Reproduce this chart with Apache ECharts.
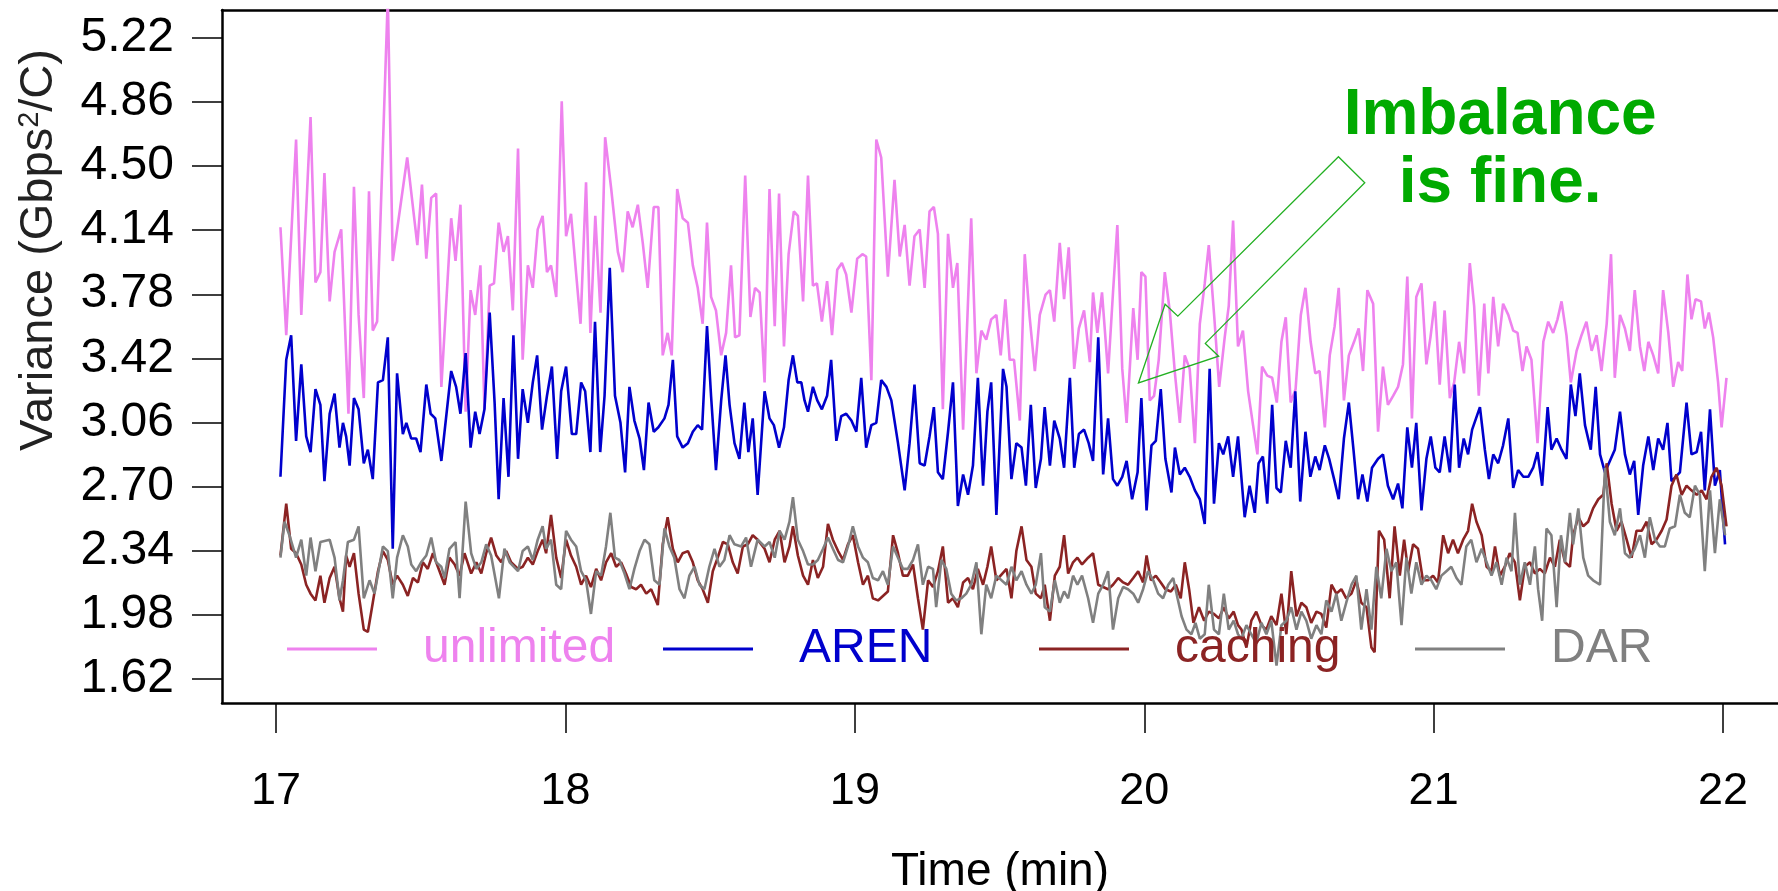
<!DOCTYPE html>
<html>
<head>
<meta charset="utf-8">
<title>Variance over time</title>
<script src="https://cdn.jsdelivr.net/npm/echarts@6/dist/echarts.min.js"></script>
<style>
  html, body { margin: 0; padding: 0; background: #fff; }
  #chart { width: 1778px; height: 891px; }
</style>
</head>
<body>
<div id="chart"></div>
<script>
// tick values
var xTicks = [17, 18, 19, 20, 21, 22];
var yTicks = [1.62, 1.98, 2.34, 2.70, 3.06, 3.42, 3.78, 4.14, 4.50, 4.86, 5.22];
var names = ['unlimited', 'AREN', 'caching', 'DAR'];
var colors = ['#EE82EE', '#0000CD', '#8B2323', '#808080'];

// [time (min), variance] pairs
var unlimited = [
  [17.015,4.156],[17.035,3.550],[17.069,4.649],[17.087,3.664],[17.119,4.775],[17.136,3.846],[17.153,3.904],[17.167,4.460],[17.185,3.740],[17.202,4.018],[17.225,4.144],[17.250,3.109],[17.269,4.384],[17.285,3.664],[17.303,3.197],[17.321,4.358],[17.334,3.576],[17.349,3.626],[17.386,5.45],[17.403,3.967],[17.453,4.548],[17.488,4.056],[17.504,4.396],[17.519,3.980],[17.536,4.321],[17.553,4.346],[17.571,3.260],[17.605,4.207],[17.620,3.967],[17.637,4.283],[17.655,3.121],[17.672,3.803],[17.688,3.664],[17.706,3.942],[17.720,3.134],[17.738,3.828],[17.753,3.841],[17.769,4.182],[17.786,4.018],[17.801,4.106],[17.818,3.689],[17.836,4.598],
  [17.852,3.412],[17.870,3.942],[17.887,3.816],[17.904,4.144],[17.921,4.220],[17.936,3.904],[17.950,3.942],[17.968,3.765],[17.987,4.863],[18.002,4.106],[18.019,4.232],[18.037,3.891],[18.052,3.614],[18.071,4.409],[18.086,3.563],[18.103,4.220],[18.121,3.677],[18.137,4.662],[18.158,4.371],[18.181,4.018],[18.198,3.904],[18.215,4.245],[18.232,4.156],[18.250,4.283],[18.267,4.068],[18.284,3.816],[18.305,4.270],[18.321,4.270],[18.336,3.437],[18.353,3.563],[18.367,3.437],[18.386,4.371],[18.405,4.207],[18.423,4.182],[18.440,3.942],[18.457,3.816],[18.474,3.614],[18.489,4.182],[18.503,3.765],[18.520,3.689],[18.538,3.437],[18.555,3.563],[18.572,3.942],[18.586,3.538],[18.601,3.550],[18.621,4.447],[18.639,3.652],[18.655,3.816],[18.671,3.790],
  [18.688,3.285],[18.705,4.371],[18.723,3.601],[18.738,4.346],[18.755,3.487],[18.771,4.005],[18.789,4.245],[18.803,4.220],[18.821,3.740],[18.838,4.447],[18.855,3.828],[18.869,3.841],[18.886,3.626],[18.904,3.854],[18.921,3.550],[18.939,3.917],[18.955,3.955],[18.970,3.891],[18.988,3.677],[19.008,3.980],[19.026,4.005],[19.039,3.992],[19.057,3.298],[19.074,4.649],[19.091,4.548],[19.114,3.879],[19.137,4.422],[19.155,3.992],[19.172,4.169],[19.189,3.828],[19.206,4.106],[19.224,4.144],[19.241,3.816],[19.258,4.245],[19.273,4.270],[19.287,4.119],[19.304,3.134],[19.322,4.119],[19.339,3.816],[19.354,3.955],[19.374,3.020],[19.402,4.207],[19.420,3.336],[19.437,3.576],[19.454,3.525],[19.471,3.639],[19.489,3.664],[19.504,3.437],
  [19.520,3.752],[19.535,3.412],[19.550,3.412],[19.570,3.071],[19.587,4.005],[19.604,3.651],[19.622,3.349],[19.639,3.664],[19.659,3.778],[19.674,3.803],[19.689,3.626],[19.708,4.068],[19.723,3.752],[19.739,4.043],[19.758,3.361],[19.774,3.588],[19.792,3.689],[19.812,3.399],[19.823,3.790],[19.838,3.563],[19.854,3.790],[19.875,3.336],[19.892,3.790],[19.907,4.169],[19.924,3.361],[19.939,3.058],[19.962,3.702],[19.977,3.412],[19.990,3.904],[20.004,3.879],[20.019,3.184],[20.034,3.210],[20.050,3.412],[20.071,3.904],[20.088,3.689],[20.106,3.336],[20.123,3.058],[20.140,3.437],[20.157,3.361],[20.175,2.944],[20.192,3.614],[20.209,3.841],[20.223,4.056],[20.242,3.651],[20.259,3.260],[20.278,3.538],[20.292,3.715],[20.307,4.194],[20.324,3.487],
  [20.341,3.576],[20.359,3.235],[20.376,3.045],[20.391,2.881],[20.407,3.374],[20.425,3.323],[20.442,3.311],[20.458,3.172],[20.474,3.513],[20.489,3.651],[20.506,3.172],[20.523,3.247],[20.541,3.664],[20.557,3.816],[20.575,3.513],[20.591,3.336],[20.606,3.349],[20.624,3.033],[20.641,3.437],[20.658,3.601],[20.672,3.816],[20.690,3.184],[20.707,3.437],[20.725,3.513],[20.741,3.588],[20.756,3.349],[20.771,3.803],[20.791,3.727],[20.808,3.008],[20.825,3.374],[20.842,3.159],[20.860,3.210],[20.877,3.260],[20.894,3.386],[20.909,3.879],[20.925,3.083],[20.940,3.765],[20.958,3.841],[20.975,3.386],[20.989,3.538],[21.004,3.740],[21.021,3.273],[21.038,3.689],[21.056,3.197],[21.071,3.285],[21.088,3.513],[21.105,3.336],[21.125,3.955],[21.140,3.715],
  [21.156,3.210],[21.175,3.727],[21.189,3.336],[21.206,3.765],[21.223,3.487],[21.240,3.727],[21.258,3.664],[21.275,3.576],[21.290,3.563],[21.307,3.349],[21.321,3.487],[21.338,3.412],[21.359,2.944],[21.379,3.513],[21.396,3.626],[21.413,3.563],[21.428,3.639],[21.442,3.740],[21.459,3.550],[21.474,3.285],[21.494,3.462],[21.511,3.550],[21.528,3.626],[21.546,3.462],[21.563,3.550],[21.580,3.349],[21.598,3.614],[21.613,4.005],[21.626,3.311],[21.644,3.664],[21.661,3.588],[21.678,3.462],[21.695,3.803],[21.713,3.487],[21.728,3.349],[21.742,3.513],[21.759,3.437],[21.776,3.336],[21.793,3.803],[21.811,3.563],[21.828,3.260],[21.845,3.399],[21.859,3.349],[21.877,3.891],[21.891,3.639],[21.905,3.752],[21.924,3.740],[21.937,3.588],[21.951,3.677],[21.966,3.538],[21.983,3.285],[21.995,3.033],[22.012,3.311]
];

var aren = [
  [17.015,2.755],[17.035,3.412],[17.052,3.550],[17.069,2.957],[17.087,3.386],[17.104,2.982],[17.119,2.894],[17.136,3.247],[17.153,3.159],[17.167,2.730],[17.185,3.109],[17.202,3.222],[17.219,2.919],[17.231,3.058],[17.242,2.982],[17.254,2.818],[17.269,3.197],[17.285,3.134],[17.303,2.831],[17.317,2.907],[17.334,2.742],[17.352,3.285],[17.369,3.298],[17.386,3.538],[17.403,2.351],[17.418,3.336],[17.438,2.995],[17.450,3.058],[17.467,2.970],[17.484,2.970],[17.499,2.894],[17.519,3.273],[17.534,3.109],[17.550,3.083],[17.571,2.844],[17.605,3.349],[17.622,3.260],[17.637,3.109],[17.655,3.450],[17.672,2.919],[17.688,3.121],[17.703,2.995],[17.720,3.134],[17.738,3.677],[17.755,3.172],[17.769,2.629],[17.786,3.197],[17.803,2.755],[17.820,3.550],[17.836,2.856],
  [17.852,3.247],[17.870,3.058],[17.887,3.285],[17.902,3.437],[17.919,3.020],[17.936,3.210],[17.953,3.374],[17.971,2.856],[17.985,3.235],[18.002,3.374],[18.022,2.995],[18.037,2.995],[18.054,3.285],[18.068,3.235],[18.086,2.894],[18.102,3.626],[18.120,2.894],[18.135,3.210],[18.153,3.929],[18.171,3.210],[18.190,3.058],[18.206,2.780],[18.221,3.260],[18.238,3.071],[18.256,2.970],[18.271,2.793],[18.287,3.172],[18.305,3.008],[18.321,3.033],[18.342,3.083],[18.356,3.159],[18.371,3.412],[18.386,2.982],[18.405,2.919],[18.423,2.944],[18.440,3.008],[18.457,3.045],[18.472,3.020],[18.489,3.601],[18.503,3.210],[18.520,2.793],[18.538,3.184],[18.553,3.437],[18.567,3.159],[18.584,2.944],[18.601,2.856],[18.618,3.172],[18.632,2.894],[18.647,3.083],[18.664,2.654],
  [18.688,3.235],[18.705,3.083],[18.720,3.045],[18.738,2.919],[18.755,3.033],[18.771,3.298],[18.786,3.437],[18.801,3.285],[18.815,3.285],[18.826,3.184],[18.838,3.121],[18.855,3.260],[18.870,3.184],[18.886,3.134],[18.904,3.210],[18.918,3.412],[18.936,2.957],[18.953,3.096],[18.970,3.109],[18.988,3.071],[19.005,3.008],[19.022,3.311],[19.039,2.919],[19.057,3.045],[19.074,3.058],[19.091,3.298],[19.109,3.260],[19.126,3.184],[19.149,2.944],[19.172,2.679],[19.189,2.944],[19.206,3.273],[19.224,2.831],[19.241,2.818],[19.258,2.982],[19.273,3.146],[19.287,2.780],[19.304,2.742],[19.322,3.008],[19.339,3.285],[19.356,2.591],[19.374,2.768],[19.391,2.654],[19.408,2.818],[19.425,3.311],[19.443,2.705],[19.458,3.121],[19.471,3.285],[19.489,2.541],
  [19.512,3.361],[19.524,3.260],[19.541,2.742],[19.558,2.944],[19.576,2.919],[19.591,2.705],[19.608,3.159],[19.625,2.692],[19.643,2.856],[19.656,3.146],[19.674,2.818],[19.689,3.071],[19.708,2.970],[19.723,2.806],[19.743,3.311],[19.758,2.806],[19.774,2.995],[19.792,3.020],[19.808,2.944],[19.823,2.844],[19.841,3.538],[19.858,2.768],[19.875,3.083],[19.892,2.742],[19.907,2.705],[19.924,2.755],[19.939,2.844],[19.958,2.629],[19.977,2.780],[19.990,3.197],[20.008,2.566],[20.025,2.932],[20.040,2.957],[20.057,3.247],[20.073,2.856],[20.094,2.667],[20.106,2.919],[20.123,2.768],[20.140,2.806],[20.157,2.755],[20.175,2.679],[20.192,2.629],[20.209,2.490],[20.226,3.361],[20.241,2.604],[20.258,2.944],[20.273,2.881],[20.290,2.982],[20.307,2.755],[20.324,2.982],
  [20.347,2.528],[20.364,2.705],[20.382,2.553],[20.395,2.831],[20.410,2.869],[20.425,2.604],[20.442,3.159],[20.457,2.692],[20.472,2.667],[20.489,2.957],[20.506,2.806],[20.522,3.235],[20.539,2.616],[20.557,3.008],[20.574,2.755],[20.591,2.869],[20.606,2.793],[20.624,2.932],[20.639,2.856],[20.656,2.742],[20.672,2.629],[20.690,2.970],[20.707,3.172],[20.723,2.907],[20.739,2.629],[20.754,2.768],[20.771,2.616],[20.787,2.806],[20.808,2.856],[20.825,2.881],[20.842,2.705],[20.860,2.629],[20.877,2.717],[20.892,2.578],[20.909,3.033],[20.925,2.806],[20.940,3.058],[20.958,2.566],[20.975,2.856],[20.990,2.982],[21.006,2.806],[21.021,2.780],[21.038,2.982],[21.056,2.780],[21.073,3.273],[21.088,2.806],[21.104,2.970],[21.119,2.881],[21.133,3.020],
  [21.160,3.146],[21.177,2.907],[21.191,2.742],[21.206,2.881],[21.223,2.831],[21.240,2.932],[21.258,3.083],[21.275,2.692],[21.292,2.793],[21.310,2.755],[21.327,2.755],[21.344,2.806],[21.359,2.894],[21.375,2.705],[21.394,3.146],[21.407,2.907],[21.425,2.970],[21.442,2.907],[21.459,2.856],[21.474,3.273],[21.490,3.096],[21.505,3.336],[21.523,3.045],[21.543,2.907],[21.560,3.260],[21.575,2.881],[21.592,2.780],[21.609,2.844],[21.626,2.907],[21.644,3.121],[21.661,2.881],[21.678,2.768],[21.693,2.844],[21.707,2.541],[21.724,2.818],[21.742,2.982],[21.759,2.793],[21.776,2.970],[21.793,2.907],[21.808,3.058],[21.822,2.730],[21.836,2.755],[21.851,2.780],[21.874,3.172],[21.891,2.881],[21.909,2.894],[21.924,3.008],[21.937,2.679],[21.955,3.134],[21.972,2.705],[21.989,2.793],[22.007,2.376]
];

var caching = [
  [17.015,2.313],[17.035,2.604],[17.052,2.351],[17.069,2.326],[17.087,2.263],[17.104,2.149],[17.119,2.099],[17.136,2.061],[17.153,2.200],[17.167,2.048],[17.185,2.187],[17.202,2.250],[17.219,2.073],[17.231,1.998],[17.242,2.313],[17.254,2.250],[17.269,2.326],[17.285,2.099],[17.303,1.897],[17.317,1.884],[17.334,2.048],[17.352,2.225],[17.369,2.338],[17.386,2.288],[17.403,2.149],[17.418,2.200],[17.438,2.149],[17.455,2.086],[17.473,2.187],[17.490,2.162],[17.507,2.275],[17.524,2.238],[17.542,2.326],[17.559,2.250],[17.582,2.149],[17.599,2.301],[17.617,2.263],[17.634,2.200],[17.651,2.326],[17.674,2.212],[17.692,2.275],[17.709,2.212],[17.726,2.326],[17.743,2.414],[17.761,2.313],[17.778,2.275],[17.795,2.338],[17.812,2.275],[17.836,2.238],
  [17.852,2.250],[17.870,2.301],[17.887,2.263],[17.904,2.338],[17.921,2.402],[17.933,2.326],[17.950,2.541],[17.968,2.301],[17.985,2.187],[18.002,2.402],[18.019,2.313],[18.037,2.250],[18.054,2.149],[18.071,2.200],[18.088,2.136],[18.106,2.238],[18.123,2.174],[18.140,2.275],[18.158,2.326],[18.175,2.250],[18.192,2.275],[18.209,2.212],[18.227,2.136],[18.244,2.124],[18.261,2.149],[18.279,2.099],[18.296,2.124],[18.319,2.035],[18.336,2.376],[18.353,2.528],[18.371,2.351],[18.388,2.275],[18.405,2.326],[18.423,2.338],[18.440,2.275],[18.457,2.174],[18.474,2.124],[18.492,2.048],[18.509,2.225],[18.526,2.301],[18.544,2.389],[18.561,2.376],[18.578,2.275],[18.595,2.212],[18.613,2.364],[18.630,2.376],[18.647,2.427],[18.664,2.402],
  [18.688,2.351],[18.705,2.275],[18.723,2.402],[18.740,2.452],[18.757,2.275],[18.774,2.364],[18.786,2.477],[18.803,2.313],[18.821,2.200],[18.838,2.149],[18.855,2.288],[18.872,2.187],[18.890,2.250],[18.907,2.490],[18.924,2.402],[18.942,2.338],[18.959,2.288],[18.976,2.376],[18.993,2.427],[19.011,2.275],[19.028,2.149],[19.045,2.200],[19.062,2.073],[19.080,2.061],[19.097,2.086],[19.114,2.111],[19.132,2.427],[19.149,2.326],[19.166,2.200],[19.183,2.200],[19.201,2.263],[19.218,2.073],[19.235,1.897],[19.253,2.174],[19.270,2.136],[19.287,2.225],[19.304,2.364],[19.322,2.048],[19.339,2.073],[19.356,2.023],[19.374,2.162],[19.391,2.187],[19.408,2.124],[19.425,2.238],[19.443,2.149],[19.458,2.250],[19.471,2.364],[19.489,2.174],
  [19.524,2.238],[19.541,2.073],[19.558,2.338],[19.576,2.477],[19.593,2.288],[19.610,2.250],[19.625,2.099],[19.643,2.073],[19.656,2.149],[19.674,1.947],[19.691,2.200],[19.708,2.250],[19.723,2.427],[19.737,2.212],[19.754,2.275],[19.769,2.301],[19.785,2.263],[19.806,2.301],[19.823,2.326],[19.841,2.149],[19.858,2.136],[19.875,2.124],[19.892,2.149],[19.910,2.187],[19.927,2.162],[19.944,2.149],[19.962,2.187],[19.979,2.225],[19.996,2.162],[20.008,2.313],[20.023,2.174],[20.040,2.200],[20.057,2.162],[20.073,2.124],[20.092,2.111],[20.109,2.149],[20.126,2.073],[20.140,2.275],[20.155,2.124],[20.170,1.935],[20.189,2.023],[20.207,1.947],[20.223,1.998],[20.241,1.985],[20.258,1.960],[20.275,2.023],[20.292,1.960],[20.309,1.998],[20.324,1.922],
  [20.336,1.897],[20.353,1.796],[20.370,1.947],[20.387,1.998],[20.405,1.922],[20.422,1.897],[20.439,1.972],[20.457,1.922],[20.474,2.099],[20.491,1.871],[20.508,2.225],[20.526,1.972],[20.543,2.048],[20.560,2.023],[20.577,1.935],[20.595,1.998],[20.612,1.985],[20.629,1.909],[20.647,2.149],[20.664,2.099],[20.681,2.124],[20.698,2.073],[20.716,2.099],[20.733,2.174],[20.750,2.048],[20.768,2.023],[20.785,1.796],[20.796,1.770],[20.811,2.452],[20.829,2.402],[20.848,2.073],[20.865,2.477],[20.883,2.200],[20.898,2.402],[20.912,2.225],[20.929,2.376],[20.946,2.351],[20.963,2.174],[20.981,2.174],[20.998,2.200],[21.015,2.162],[21.033,2.427],[21.050,2.326],[21.067,2.402],[21.084,2.326],[21.102,2.402],[21.119,2.452],[21.133,2.604],[21.148,2.503],
  [21.166,2.427],[21.183,2.250],[21.200,2.225],[21.212,2.364],[21.229,2.200],[21.246,2.250],[21.263,2.326],[21.281,2.275],[21.298,2.061],[21.315,2.250],[21.333,2.275],[21.350,2.212],[21.367,2.238],[21.384,2.212],[21.402,2.301],[21.419,2.250],[21.436,2.402],[21.454,2.275],[21.471,2.250],[21.482,2.427],[21.500,2.528],[21.517,2.477],[21.534,2.503],[21.551,2.578],[21.569,2.629],[21.586,2.654],[21.598,2.831],[21.615,2.604],[21.632,2.452],[21.649,2.503],[21.667,2.402],[21.684,2.301],[21.701,2.452],[21.719,2.452],[21.736,2.503],[21.753,2.376],[21.770,2.402],[21.788,2.452],[21.805,2.515],[21.822,2.705],[21.839,2.768],[21.857,2.654],[21.874,2.705],[21.891,2.679],[21.909,2.654],[21.926,2.679],[21.943,2.629],[21.960,2.755],[21.978,2.806],[21.995,2.705],[22.012,2.477]
];

var dar = [
  [17.015,2.301],[17.029,2.503],[17.046,2.427],[17.069,2.301],[17.087,2.402],[17.104,2.200],[17.119,2.414],[17.136,2.225],[17.153,2.389],[17.185,2.402],[17.202,2.301],[17.219,2.061],[17.231,2.174],[17.248,2.389],[17.269,2.402],[17.285,2.477],[17.303,2.073],[17.323,2.174],[17.340,2.099],[17.369,2.364],[17.386,2.338],[17.403,2.073],[17.418,2.301],[17.438,2.427],[17.455,2.364],[17.467,2.263],[17.484,2.225],[17.501,2.275],[17.519,2.313],[17.536,2.414],[17.553,2.275],[17.571,2.250],[17.582,2.187],[17.599,2.351],[17.620,2.389],[17.634,2.073],[17.655,2.616],[17.674,2.326],[17.692,2.238],[17.709,2.275],[17.726,2.376],[17.743,2.313],[17.770,2.073],[17.789,2.351],[17.807,2.275],[17.836,2.225],
  [17.852,2.338],[17.870,2.364],[17.887,2.288],[17.904,2.402],[17.921,2.477],[17.933,2.351],[17.950,2.402],[17.968,2.149],[17.985,2.124],[18.002,2.452],[18.019,2.402],[18.037,2.364],[18.054,2.225],[18.071,2.174],[18.088,1.985],[18.106,2.225],[18.123,2.200],[18.140,2.364],[18.155,2.553],[18.171,2.301],[18.186,2.288],[18.204,2.212],[18.221,2.124],[18.238,2.238],[18.256,2.338],[18.273,2.402],[18.290,2.376],[18.307,2.174],[18.325,2.149],[18.342,2.465],[18.359,2.364],[18.376,2.301],[18.394,2.124],[18.411,2.073],[18.428,2.200],[18.446,2.250],[18.463,2.149],[18.480,2.124],[18.497,2.250],[18.515,2.351],[18.532,2.250],[18.549,2.288],[18.567,2.427],[18.584,2.376],[18.607,2.364],[18.624,2.414],[18.641,2.250],[18.664,2.402],
  [18.688,2.364],[18.705,2.389],[18.723,2.301],[18.740,2.452],[18.757,2.402],[18.774,2.503],[18.786,2.641],[18.803,2.402],[18.821,2.338],[18.838,2.263],[18.855,2.263],[18.872,2.288],[18.890,2.351],[18.907,2.414],[18.924,2.351],[18.942,2.288],[18.959,2.275],[18.976,2.364],[18.993,2.477],[19.011,2.364],[19.028,2.301],[19.045,2.275],[19.062,2.187],[19.080,2.174],[19.097,2.225],[19.114,2.149],[19.132,2.364],[19.149,2.301],[19.166,2.238],[19.183,2.238],[19.201,2.288],[19.218,2.376],[19.235,2.149],[19.253,2.250],[19.270,2.238],[19.281,2.023],[19.299,2.288],[19.316,2.238],[19.333,2.099],[19.350,2.061],[19.368,2.073],[19.385,2.099],[19.402,2.149],[19.420,2.275],[19.437,1.871],[19.454,2.149],[19.471,2.073],[19.489,2.200],
  [19.524,2.149],[19.541,2.250],[19.558,2.174],[19.576,2.225],[19.593,2.149],[19.610,2.099],[19.625,2.149],[19.643,2.326],[19.656,2.023],[19.674,1.998],[19.691,2.174],[19.708,2.048],[19.723,2.111],[19.737,2.073],[19.754,2.200],[19.769,2.149],[19.785,2.200],[19.806,2.073],[19.823,1.935],[19.841,2.099],[19.858,2.149],[19.875,2.225],[19.892,1.897],[19.910,2.073],[19.927,2.136],[19.944,2.124],[19.962,2.099],[19.979,2.048],[19.996,2.124],[20.013,2.225],[20.031,2.174],[20.048,2.099],[20.065,2.073],[20.083,2.149],[20.100,2.187],[20.115,2.073],[20.129,1.972],[20.146,1.897],[20.163,1.871],[20.177,1.935],[20.192,1.846],[20.209,1.871],[20.223,2.149],[20.241,1.897],[20.258,1.871],[20.275,2.099],[20.292,1.897],[20.309,1.947],[20.324,1.871],
  [20.336,1.846],[20.353,1.922],[20.370,1.871],[20.387,1.821],[20.405,1.935],[20.422,1.871],[20.439,1.947],[20.457,1.695],[20.474,1.922],[20.491,1.947],[20.508,2.023],[20.526,1.897],[20.543,1.998],[20.560,1.947],[20.577,1.846],[20.595,1.922],[20.612,1.871],[20.629,2.061],[20.647,1.998],[20.664,2.099],[20.681,1.947],[20.698,2.048],[20.716,2.149],[20.733,2.200],[20.750,1.897],[20.768,2.124],[20.785,1.897],[20.802,2.250],[20.819,2.073],[20.837,2.351],[20.854,2.225],[20.871,2.275],[20.889,1.922],[20.906,2.301],[20.923,2.099],[20.940,2.275],[20.958,2.149],[20.975,2.200],[20.992,2.174],[21.009,2.124],[21.027,2.200],[21.044,2.225],[21.061,2.250],[21.079,2.187],[21.096,2.149],[21.113,2.364],[21.130,2.402],[21.148,2.275],
  [21.166,2.351],[21.183,2.275],[21.200,2.200],[21.217,2.275],[21.235,2.149],[21.252,2.301],[21.269,2.225],[21.281,2.553],[21.298,2.149],[21.315,2.275],[21.333,2.149],[21.350,2.364],[21.361,2.124],[21.375,1.947],[21.390,2.465],[21.407,2.427],[21.425,2.023],[21.440,2.427],[21.454,2.275],[21.471,2.553],[21.482,2.376],[21.500,2.578],[21.517,2.301],[21.534,2.200],[21.551,2.174],[21.575,2.149],[21.592,2.806],[21.609,2.503],[21.626,2.427],[21.644,2.578],[21.661,2.326],[21.678,2.301],[21.695,2.351],[21.713,2.427],[21.730,2.301],[21.747,2.528],[21.765,2.402],[21.782,2.364],[21.799,2.364],[21.816,2.465],[21.834,2.477],[21.851,2.654],[21.868,2.553],[21.885,2.528],[21.903,2.705],[21.920,2.654],[21.937,2.225],[21.955,2.679],[21.972,2.326],[21.989,2.629],[22.007,2.427]
];

// outline of the annotation arrow, in data units (time, variance)
var arrowPts = [[20.671,4.552],[19.980,3.282],[20.257,3.432],[20.211,3.504],[20.762,4.406],[20.671,4.552]];
var arrowBarb = [[20.116,3.657],[20.072,3.724]];
// centre of the green note, in data units
var noteAt = [21.23, 4.588];

var FONT = '"Liberation Sans", Arial, Helvetica, sans-serif';
var allData = [unlimited, aren, caching, dar];
var legendLeft = [287, 663, 1039, 1415];

var chart = echarts.init(document.getElementById('chart'));

var series = names.map(function (n, i) {
  return {
    name: n,
    type: 'line',
    data: allData[i],
    showSymbol: false,
    symbol: 'none',
    clip: true,
    lineStyle: { color: colors[i], width: 2.6 },
    itemStyle: { color: colors[i] },
    animation: false
  };
});

var legends = names.map(function (n, i) {
  return {
    data: [n],
    left: legendLeft[i],
    top: 621,
    padding: 0,
    icon: 'rect',
    itemWidth: 90,
    itemHeight: 3,
    selectedMode: false,
    textStyle: {
      color: colors[i],
      fontSize: 48,
      fontFamily: FONT,
      lineHeight: 56,
      padding: [0, 0, 0, 41]
    }
  };
});

var option = {
  backgroundColor: '#ffffff',
  animation: false,
  grid: { left: 222, right: 0, top: 10, bottom: 188, outerBoundsMode: 'none', containLabel: false },
  legend: legends,
  xAxis: [{
    type: 'value',
    min: 16.813,
    max: 22.19,
    name: 'Time (min)',
    nameLocation: 'middle',
    nameGap: 146,
    nameTextStyle: { fontSize: 46, color: '#000', fontFamily: FONT },
    axisLine: { show: true, onZero: false, lineStyle: { color: '#000', width: 2.5 } },
    axisTick: { show: true, length: 30, inside: false, customValues: xTicks, lineStyle: { color: '#000', width: 1.5 } },
    axisLabel: {
      customValues: xTicks,
      margin: 66,
      fontSize: 45,
      color: '#000',
      fontFamily: FONT
    },
    splitLine: { show: false }
  }, {
    type: 'value',
    position: 'top',
    min: 16.813,
    max: 22.19,
    axisLine: { show: true, onZero: false, lineStyle: { color: '#000', width: 2.5 } },
    axisTick: { show: false },
    axisLabel: { show: false },
    splitLine: { show: false }
  }],
  yAxis: {
    type: 'value',
    min: 1.485,
    max: 5.376,
    axisLine: { show: true, onZero: false, lineStyle: { color: '#000', width: 2.5 } },
    axisTick: { show: true, length: 30, customValues: yTicks, lineStyle: { color: '#000', width: 1.5 } },
    axisLabel: {
      customValues: yTicks,
      margin: 48,
      fontSize: 48,
      color: '#000',
      fontFamily: FONT,
      formatter: function (v) { return v.toFixed(2); }
    },
    splitLine: { show: false }
  },
  series: series
};
chart.setOption(option);

// annotation: rotated y title, green note and arrow outline
var toPx = function (p) { return chart.convertToPixel({ gridIndex: 0 }, p); };
var arrowPx = arrowPts.map(toPx);
var barbPx = arrowBarb.map(toPx);
var outline = [arrowPx[0], barbPx[0], barbPx[1], arrowPx[1], arrowPx[2], arrowPx[3], arrowPx[4]];
var notePos = toPx(noteAt);

chart.setOption({
  graphic: [{
    type: 'text',
    x: 39,
    y: 250,
    rotation: Math.PI / 2,
    style: {
      text: 'Variance (Gbps{sup|2}/C)',
      fill: '#222',
      font: '47px ' + FONT,
      align: 'center',
      verticalAlign: 'middle',
      rich: {
        sup: { fontSize: 29, fontFamily: FONT, fill: '#222', verticalAlign: 'top', lineHeight: 47, padding: [0, 0, 18, 0] }
      }
    }
  }, {
    type: 'polygon',
    shape: { points: outline },
    style: { fill: 'none', stroke: '#22B022', lineWidth: 1.3 },
    z: 10
  }, {
    type: 'text',
    x: notePos[0],
    y: notePos[1],
    style: {
      text: 'Imbalance\nis fine.',
      fill: '#00AA00',
      font: 'bold 64px ' + FONT,
      align: 'center',
      verticalAlign: 'middle',
      lineHeight: 68
    },
    z: 10
  }]
});
</script>
</body>
</html>
